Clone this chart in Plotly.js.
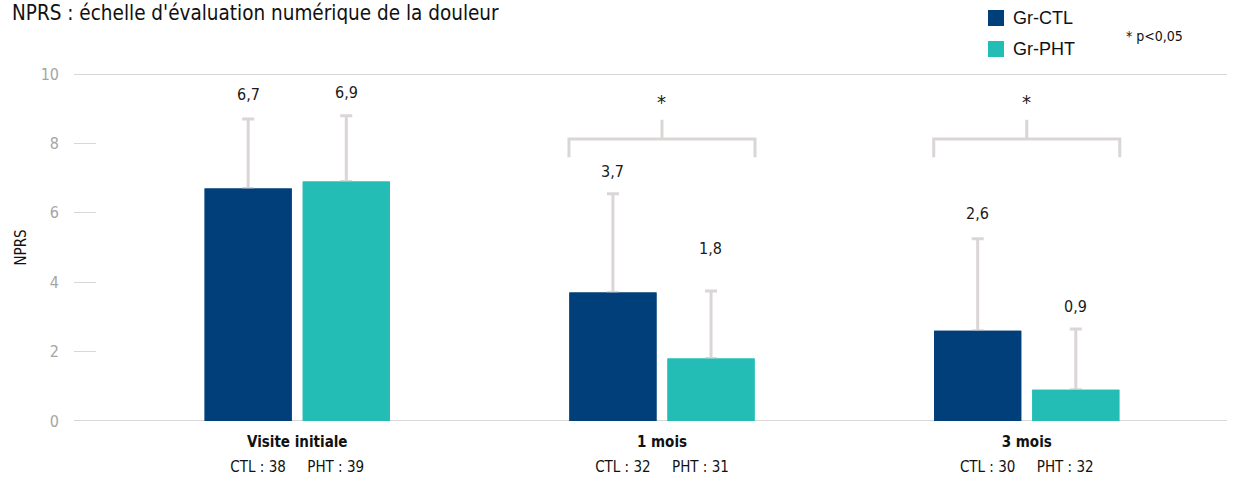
<!DOCTYPE html>
<html>
<head>
<meta charset="utf-8">
<script src="https://cdn.plot.ly/plotly-3.0.1.min.js"></script>
<style>
  html, body { margin: 0; padding: 0; background: #fff; }
  #chart { width: 1234px; height: 479px; }
</style>
</head>
<body>
<div id="chart"></div>
<script>
// Pain score (NPRS) by visit, control vs. physiotherapy group
const visits = ['Visite initiale', '1 mois', '3 mois'];
const ctlCount = [38, 32, 30];
const phtCount = [39, 31, 32];
const ctlMean = [6.7, 3.7, 2.6];
const phtMean = [6.9, 1.8, 0.9];
const ctlSD = [2.0, 2.85, 2.65];
const phtSD = [1.9, 1.95, 1.75];
const significant = [false, true, true];
const seriesNames = ['Gr-CTL', 'Gr-PHT'];
const yTicks = [0, 2, 4, 6, 8, 10];

// styling
const COND = '"Liberation Sans Narrow", "DejaVu Sans Condensed", "Roboto Condensed", "Arial Narrow", sans-serif';
const CTL_COLOR = '#003f79';
const PHT_COLOR = '#24bdb6';
const LIGHT = '#dbd6d6';
const labelLiftCtl = [25, 22, 25];
const labelLiftPht = [23, 42, 23];
const barShift = 49;  // px from group centre to each bar centre

const fmt = v => v.toFixed(1).replace('.', ',');
const nb = '\u00a0';

// bars carrying the upward SD whiskers
function whiskerTrace(name, group, means, sds, color) {
  return {
    type: 'bar', name: name, x: visits, y: means, offsetgroup: group,
    marker: { color: color, line: { width: 0 } },
    error_y: {
      type: 'data', symmetric: false, array: sds,
      arrayminus: means.map(() => 0),
      color: LIGHT, thickness: 3, width: 6
    },
    hoverinfo: 'skip', showlegend: false
  };
}
// same bars painted again on top so the whisker foot stays hidden
function faceTrace(name, group, means, color) {
  return {
    type: 'bar', name: name, x: visits, y: means, offsetgroup: group,
    marker: { color: color, line: { width: 0 } },
    hoverinfo: 'skip', showlegend: false
  };
}

const data = [
  whiskerTrace(seriesNames[0], 'ctl', ctlMean, ctlSD, CTL_COLOR),
  whiskerTrace(seriesNames[1], 'pht', phtMean, phtSD, PHT_COLOR),
  faceTrace(seriesNames[0], 'ctl', ctlMean, CTL_COLOR),
  faceTrace(seriesNames[1], 'pht', phtMean, PHT_COLOR)
];

const annotations = [];
const shapes = [];

// value labels above the whiskers
visits.forEach((v, i) => {
  annotations.push({
    x: v, y: ctlMean[i] + ctlSD[i], xref: 'x', yref: 'y',
    text: fmt(ctlMean[i]), showarrow: false, xshift: -barShift,
    yshift: labelLiftCtl[i], yanchor: 'middle',
    font: { family: COND, size: 16, color: '#1a1a1a' }
  });
  annotations.push({
    x: v, y: phtMean[i] + phtSD[i], xref: 'x', yref: 'y',
    text: fmt(phtMean[i]), showarrow: false, xshift: barShift,
    yshift: labelLiftPht[i], yanchor: 'middle',
    font: { family: COND, size: 16, color: '#1a1a1a' }
  });
});

// significance brackets
const half = 0.255;
visits.forEach((v, i) => {
  if (!significant[i]) return;
  const line = { color: LIGHT, width: 3 };
  shapes.push({ type: 'path', xref: 'x', yref: 'y', line: line,
    path: `M ${i - half} 7.6 L ${i - half} 8.13 L ${i + half} 8.13 L ${i + half} 7.6` });
  shapes.push({ type: 'line', xref: 'x', yref: 'y', line: line,
    x0: i, x1: i, y0: 8.13, y1: 8.68 });
  annotations.push({ x: i, y: 9.2, xref: 'x', yref: 'y', text: '*',
    showarrow: false, font: { family: COND, size: 20, color: '#1a1a1a' } });
});

// top and bottom reference lines
[0, 10].forEach(yv => shapes.push({
  type: 'line', xref: 'paper', yref: 'y', x0: 0, x1: 1, y0: yv, y1: yv,
  line: { color: LIGHT, width: 2 }, layer: 'below'
}));

// legend swatches
[[CTL_COLOR, 18], [PHT_COLOR, 49]].forEach(([c, py], k) => {
  shapes.push({ type: 'rect', xref: 'paper', yref: 'paper',
    x0: (988 - 74) / 1153, x1: (1004 - 74) / 1153,
    y0: (421 - (py - 8)) / 347, y1: (421 - (py + 8)) / 347,
    fillcolor: c, line: { width: 0 } });
  annotations.push({ xref: 'paper', yref: 'paper',
    x: (1011 - 74) / 1153, y: (421 - py) / 347, xanchor: 'left', yanchor: 'middle',
    text: seriesNames[k], showarrow: false,
    font: { family: '"Liberation Sans", Arial, sans-serif', size: 18, color: '#111' } });
});
annotations.push({ xref: 'paper', yref: 'paper',
  x: (1124 - 74) / 1153, y: (421 - 36) / 347, xanchor: 'left', yanchor: 'middle',
  text: '* p<0,05', showarrow: false,
  font: { family: COND, size: 14, color: '#111' } });

const tickText = visits.map((v, i) =>
  `<span style="font-size:15px"><b>${v}</b></span><br>` +
  `<span style="font-size:15px">CTL : ${ctlCount[i]}${nb.repeat(5)}PHT : ${phtCount[i]}</span>`);

const layout = {
  width: 1234, height: 479,
  margin: { l: 74, r: 7, t: 74, b: 58 },
  paper_bgcolor: '#fff', plot_bgcolor: '#fff',
  barmode: 'group', bargap: 0.462, bargroupgap: 0.112,
  title: {
    text: "NPRS : échelle d'évaluation numérique de la douleur",
    x: 12 / 1234, xanchor: 'left', xref: 'container',
    y: 1 - 13 / 479, yanchor: 'middle', yref: 'container',
    font: { family: COND, size: 20.5, color: '#111' }
  },
  xaxis: {
    type: 'category', range: [-0.612, 2.549],
    tickvals: visits, ticktext: tickText,
    showgrid: false, zeroline: false, showline: false, ticks: '',
    ticklabelstandoff: 6,
    tickfont: { family: COND, size: 19, color: '#111' },
    fixedrange: true
  },
  yaxis: {
    range: [0, 10], tickvals: yTicks,
    showgrid: false, zeroline: false, showline: false,
    ticks: 'inside', ticklen: 22, tickwidth: 1, tickcolor: LIGHT,
    ticklabelstandoff: 14,
    tickfont: { family: COND, size: 16, color: '#a5a5a5' },
    title: { text: 'NPRS', standoff: 10, font: { family: COND, size: 15, color: '#111' } },
    fixedrange: true
  },
  shapes: shapes,
  annotations: annotations,
  showlegend: false
};

Plotly.newPlot('chart', data, layout, { displayModeBar: false, staticPlot: true });
</script>
</body>
</html>
